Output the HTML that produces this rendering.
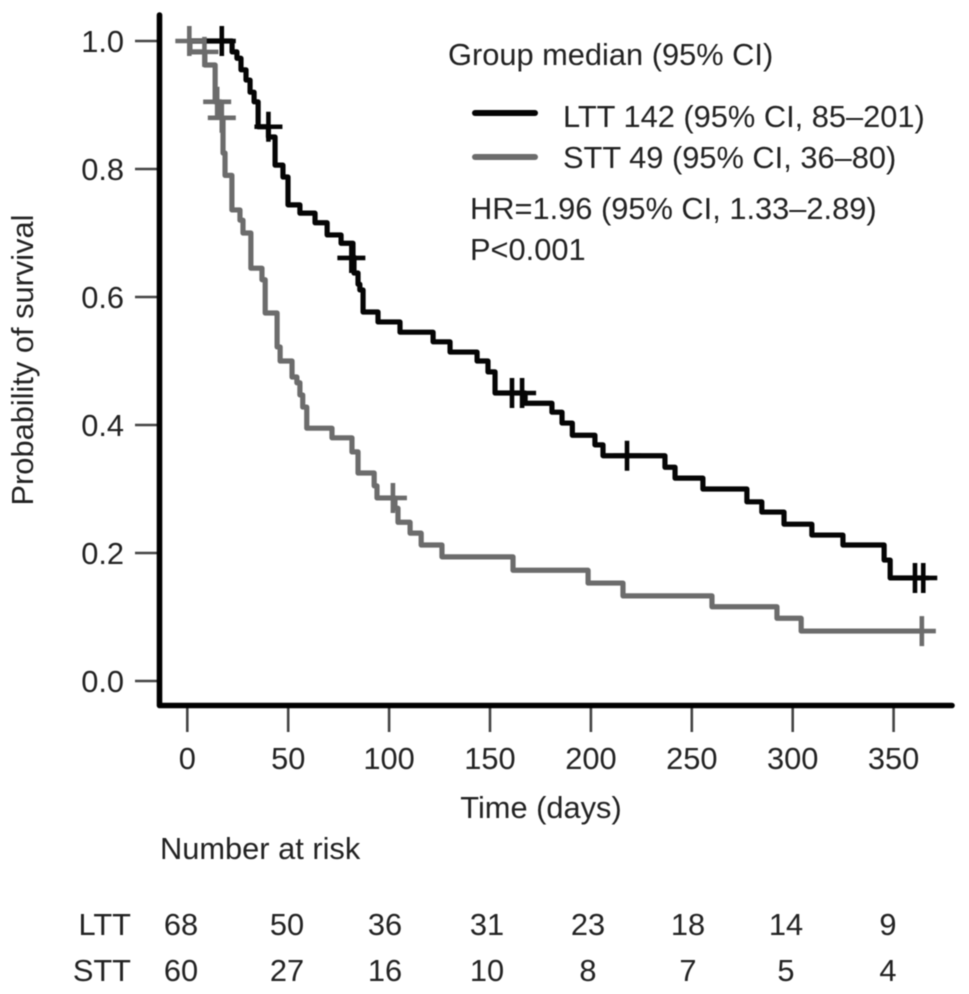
<!DOCTYPE html>
<html>
<head>
<meta charset="utf-8">
<title>Kaplan-Meier survival chart</title>
<style>
html,body{margin:0;padding:0;background:#fff;}
svg{display:block;filter:blur(0.6px);}
text{font-family:"Liberation Sans",Arial,sans-serif;font-size:30.8px;fill:#222;}
</style>
</head>
<body>
<svg id="chart" xmlns="http://www.w3.org/2000/svg" width="969" height="994" viewBox="0 0 969 994"></svg>
<script>
const xTicks = [0, 50, 100, 150, 200, 250, 300, 350];
const yTicks = [0, 0.2, 0.4, 0.6, 0.8, 1];
const riskLtt = [68, 50, 36, 31, 23, 18, 14, 9];
const riskStt = [60, 27, 16, 10, 8, 7, 5, 4];
const lttTimes = [0,22.2,24.6,26.6,29.1,31.1,33.1,35.1,40.2,43.5,47.4,49.9,55.8,63.3,69.3,76.2,82.1,82.6,84.6,85.5,87.1,94.5,105.4,121.8,130.2,143.6,149,152.5,167.4,180.7,185.7,190.8,202,206,236.7,241.7,255.5,277.3,284.7,295.7,309.5,324.9,345.3,348.3,364.7];
const lttSurv = [1,0.983,0.973,0.955,0.939,0.92,0.905,0.866,0.85,0.806,0.7875,0.744,0.731,0.716,0.697,0.684,0.6625,0.6375,0.62,0.611,0.5766,0.561,0.545,0.53,0.514,0.5,0.483,0.45,0.434,0.42,0.403,0.384,0.369,0.352,0.334,0.317,0.3,0.28,0.264,0.245,0.228,0.2125,0.189,0.161,0.161];
const lttCensorTimes = [17.1,40.2,81.3,160.9,165.9,217.9,360.6,364.7];
const lttCensorSurv = [1,0.866,0.661,0.45,0.45,0.352,0.161,0.161];
const sttTimes = [0,1.3,8.7,13.8,16.7,17.7,18.7,22.1,26.1,27.6,31.5,37,38.6,44.5,46,51.9,54.3,55.8,57.2,59.2,71.7,81.6,84.6,92.6,94,102.9,104.4,110.4,115.9,126.2,161.4,198.6,215.9,260,292.2,304.2,364];
const sttSurv = [1,0.983,0.9625,0.905,0.88,0.825,0.79,0.736,0.72,0.7,0.645,0.627,0.575,0.522,0.5,0.475,0.466,0.447,0.428,0.395,0.38,0.358,0.325,0.305,0.286,0.27,0.248,0.231,0.2125,0.194,0.173,0.153,0.133,0.116,0.098,0.078,0.078];
const sttCensorTimes = [1,8.5,14.8,17.1,101.9,364];
const sttCensorSurv = [1,0.983,0.905,0.88,0.286,0.078];

const NS = 'http://www.w3.org/2000/svg';
const svg = document.getElementById('chart');
const LTT_COLOR = '#050505';
const STT_COLOR = '#6c6c6c';
const RISK_X = [181, 287, 385, 487, 588, 688, 786, 888];
function xScale(t) { return 187.3 + 2.018 * t; }
function yScale(s) { return 681 - 640 * s; }
function make(tag, attrs, parent) {
  const el = document.createElementNS(NS, tag);
  for (const k in attrs) el.setAttribute(k, attrs[k]);
  (parent || svg).appendChild(el);
  return el;
}
function drawTextEl(str, x, y, anchor, parent) {
  const el = make('text', {x: x, y: y, 'text-anchor': anchor || 'start'}, parent);
  el.textContent = str;
  return el;
}
function stepPath(times, surv) {
  let d = 'M' + xScale(times[0]) + ' ' + yScale(surv[0]);
  for (let i = 1; i < times.length; i++) {
    d += 'H' + xScale(times[i]) + 'V' + yScale(surv[i]);
  }
  return d;
}
function drawCensors(group, times, surv, color) {
  for (let i = 0; i < times.length; i++) {
    const cx = xScale(times[i]), cy = yScale(surv[i]);
    const mark = make('path', {
      d: 'M' + (cx - 14) + ' ' + cy + 'H' + (cx + 14) + 'M' + cx + ' ' + (cy - 15) + 'V' + (cy + 15),
      stroke: color, 'stroke-width': 4.6, fill: 'none'
    }, group);
    
    
  }
}

/* y axis ticks and labels */
yTicks.forEach(function (v) {
  const tick = make('line', {x1: 135, x2: 159, y1: yScale(v), y2: yScale(v), stroke: '#444', 'stroke-width': 2.6});
  
  
  const label = drawTextEl(v.toFixed(1), 124, yScale(v) + 11, 'end');
  
  
});
/* x axis ticks and labels */
xTicks.forEach(function (v) {
  const tick = make('line', {x1: xScale(v), x2: xScale(v), y1: 705, y2: 732, stroke: '#444', 'stroke-width': 2.6});
  
  
  const label = drawTextEl(String(v), xScale(v), 769, 'middle');
  
  
});
/* axis lines */
const axes = make('path', {d: 'M159.5 15V705.5H952', stroke: '#000', 'stroke-width': 5.6, fill: 'none', 'stroke-linecap': 'round', 'stroke-linejoin': 'round'});



/* curves */
const lttLine = make('path', {d: stepPath(lttTimes, lttSurv), stroke: LTT_COLOR, 'stroke-width': 5.2, fill: 'none', 'stroke-linejoin': 'round'});


const sttLine = make('path', {d: stepPath(sttTimes, sttSurv), stroke: STT_COLOR, 'stroke-width': 5.2, fill: 'none', 'stroke-linejoin': 'round'});


const sttCensorGroup = make('g', {});


drawCensors(sttCensorGroup, sttCensorTimes, sttCensorSurv, STT_COLOR);
const lttCensorGroup = make('g', {});


drawCensors(lttCensorGroup, lttCensorTimes, lttCensorSurv, LTT_COLOR);

/* titles */
const yTitle = make('text', {x: 0, y: 0, 'text-anchor': 'middle', transform: 'translate(33 360) rotate(-90)'});
yTitle.textContent = 'Probability of survival';


const xTitle = drawTextEl('Time (days)', 541, 818, 'middle');



/* legend */
const legendTitle = drawTextEl('Group median (95% CI)', 448, 65);


const lttKey = make('line', {x1: 475, x2: 535, y1: 113, y2: 113, stroke: LTT_COLOR, 'stroke-width': 6, 'stroke-linecap': 'round'});


const lttLegend = drawTextEl('LTT 142 (95% CI, 85–201)', 563, 127);


const sttKey = make('line', {x1: 475, x2: 535, y1: 157, y2: 157, stroke: STT_COLOR, 'stroke-width': 6, 'stroke-linecap': 'round'});


const sttLegend = drawTextEl('STT 49 (95% CI, 36–80)', 563, 168);


const hrText = drawTextEl('HR=1.96 (95% CI, 1.33–2.89)', 470, 219);


const pText = drawTextEl('P<0.001', 470, 260);



/* number at risk table */
const riskTitle = drawTextEl('Number at risk', 160, 859);


const riskLttLabel = drawTextEl('LTT', 131, 935, 'end');


const riskSttLabel = drawTextEl('STT', 131, 981, 'end');


riskLtt.forEach(function (v, i) {
  const el = drawTextEl(String(v), RISK_X[i], 935, 'middle');
  
  
});
riskStt.forEach(function (v, i) {
  const el = drawTextEl(String(v), RISK_X[i], 981, 'middle');
  
  
});
</script>
</body>
</html>
